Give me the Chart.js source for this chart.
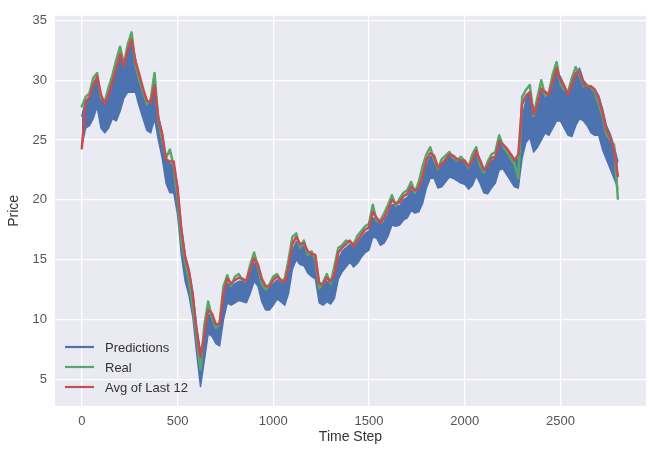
<!DOCTYPE html>
<html><head><meta charset="utf-8">
<script src="https://cdn.jsdelivr.net/npm/chart.js@4/dist/chart.umd.min.js"></script>
<style>html,body{margin:0;padding:0;background:#fff;} #wrap{width:649px;height:450px;}</style>
</head><body><div id="wrap"><canvas id="c" width="649" height="450"></canvas></div>
<script>
const steps = [
0,20,40,60,80,100,120,140,160,180,
200,220,240,260,280,300,320,340,360,380,
400,420,440,460,480,500,520,540,560,580,
600,620,640,660,680,700,720,740,760,780,
800,820,840,860,880,900,920,940,960,980,
1000,1020,1040,1060,1080,1100,1120,1140,1160,1180,
1200,1220,1240,1260,1280,1300,1320,1340,1360,1380,
1400,1420,1440,1460,1480,1500,1520,1540,1560,1580,
1600,1620,1640,1660,1680,1700,1720,1740,1760,1780,
1800,1820,1840,1860,1880,1900,1920,1940,1960,1980,
2000,2020,2040,2060,2080,2100,2120,2140,2160,2180,
2200,2220,2240,2260,2280,2300,2320,2340,2360,2380,
2400,2420,2440,2460,2480,2500,2520,2540,2560,2580,
2600,2620,2640,2660,2680,2700,2720,2740,2760,2780,
2800];

// Predictions: upper and lower edge of the dense prediction band
const predHigh = [
27.0,28.3,28.5,29.4,30.0,28.6,27.9,28.6,29.6,30.7,
31.8,31.2,32.2,33.0,31.8,30.4,29.2,28.2,28.0,29.3,
27.0,25.6,23.5,23.0,23.0,21.2,17.8,15.4,14.2,12.3,
9.4,7.3,8.4,10.4,10.4,9.5,9.3,11.7,13.0,12.9,
13.0,13.2,13.2,13.0,13.8,14.7,14.6,13.5,12.8,12.6,
13.0,13.3,13.2,12.9,14.0,15.7,16.5,16.2,16.1,15.6,
15.3,15.2,13.2,12.7,13.2,13.1,13.5,15.0,15.7,16.0,
16.3,16.0,16.3,16.8,17.2,17.4,18.5,18.4,17.9,18.2,
18.8,19.6,19.6,19.5,20.0,20.2,20.8,20.7,20.8,21.5,
22.8,23.6,23.6,22.8,22.8,23.2,23.6,23.6,23.4,23.2,
23.2,22.8,23.0,23.8,23.4,22.6,22.6,23.2,23.5,24.6,
24.7,24.3,23.9,23.4,23.4,26.8,28.4,28.9,27.6,27.8,
29.0,29.1,28.7,29.5,30.6,30.3,29.6,28.8,29.4,30.5,
31.0,30.0,29.6,29.4,29.2,28.7,27.6,26.2,25.5,24.5,
23.2];

const predLow = [
24.5,26.0,26.2,26.8,27.8,26.0,25.6,26.0,26.8,26.6,
27.4,28.5,29.0,29.0,29.0,27.8,26.8,25.8,25.6,26.8,
25.0,23.5,21.4,20.6,20.6,18.8,15.4,13.2,12.0,10.2,
7.2,4.4,6.6,8.8,8.6,8.0,7.8,10.0,11.4,11.2,
11.4,11.6,11.5,11.4,12.2,13.2,12.8,11.5,10.8,10.8,
11.2,11.7,11.5,11.2,12.2,14.2,15.0,14.6,14.5,13.9,
13.6,13.4,11.4,11.2,11.5,11.3,11.8,13.4,14.0,14.4,
14.8,14.4,14.7,15.2,15.6,15.8,16.9,16.8,16.2,16.4,
17.0,17.9,17.8,17.9,18.3,18.5,19.1,18.9,19.0,19.7,
21.0,21.8,21.8,21.0,21.1,21.5,21.9,21.8,21.6,21.4,
21.3,20.9,21.2,22.0,21.4,20.6,20.5,21.0,21.4,22.5,
22.6,22.1,21.6,21.1,21.0,23.5,24.8,25.2,24.0,24.4,
25.0,25.6,25.4,26.0,26.6,26.6,26.0,25.4,25.3,26.2,
26.8,26.6,26.2,25.6,25.4,25.4,24.2,23.4,22.6,21.8,
21.0];

const real = [
27.8,28.6,28.9,30.2,30.6,28.5,28.2,29.4,30.4,31.7,
32.8,31.3,33.0,34.0,31.3,30.0,29.0,28.0,28.4,30.6,
26.5,25.0,23.5,24.2,22.8,20.2,16.5,14.8,13.2,11.0,
8.5,5.8,9.5,11.5,10.2,9.3,9.8,12.8,13.7,12.8,
13.6,13.8,13.3,13.3,14.6,15.6,14.4,13.0,12.5,12.9,
13.6,13.8,13.2,13.4,15.0,16.9,17.2,16.0,16.6,15.4,
15.7,15.0,12.6,13.1,13.8,13.0,14.5,16.0,16.2,16.6,
16.5,16.3,17.0,17.4,17.8,18.0,19.6,18.2,18.3,18.9,
19.6,20.4,19.5,20.1,20.6,20.8,21.5,20.6,21.5,22.8,
23.8,24.4,23.3,22.6,23.4,23.7,24.0,23.5,23.3,23.6,
23.2,22.7,23.8,24.4,22.9,22.3,23.2,23.8,24.0,25.4,
24.5,24.0,23.5,23.0,21.8,28.6,29.2,29.6,27.0,28.6,
30.0,28.7,29.0,30.5,31.5,29.7,29.2,29.0,30.2,31.1,
30.4,29.5,29.6,29.4,29.0,28.0,27.0,25.5,25.0,24.6,
20.1];

const avg12 = [
24.3,28.2,28.6,29.6,30.3,28.8,28.0,28.8,29.9,31.0,
32.2,31.2,32.5,33.4,31.6,30.5,29.3,28.3,28.1,29.6,
26.8,25.5,23.4,23.2,23.2,21.0,17.5,15.2,14.0,12.0,
9.0,6.9,8.7,10.8,10.5,9.6,9.6,12.2,13.4,13.0,
13.3,13.5,13.4,13.2,14.2,15.1,14.6,13.4,12.8,12.8,
13.3,13.6,13.3,13.1,14.4,16.3,16.9,16.3,16.4,15.7,
15.5,15.4,13.0,12.9,13.5,13.2,13.8,15.6,16.0,16.3,
16.6,16.1,16.6,17.1,17.5,17.7,19.0,18.5,18.1,18.5,
19.2,20.0,19.7,19.8,20.3,20.5,21.1,20.8,21.0,22.0,
23.3,23.9,23.7,22.7,23.0,23.4,23.8,23.7,23.4,23.3,
23.3,22.8,23.3,24.1,23.3,22.5,22.8,23.5,23.6,24.9,
24.6,24.3,23.8,23.3,23.8,28.0,28.7,29.0,27.2,28.0,
29.3,29.0,28.8,29.9,31.0,30.0,29.5,28.8,29.7,30.6,
30.7,29.7,29.4,29.5,29.2,28.5,27.3,25.9,25.2,24.2,
22.0];

const xTicks = [0,500,1000,1500,2000,2500];
const yTicks = [5,10,15,20,25,30,35];
const seriesNames = ['Predictions','Real','Avg of Last 12'];
const seriesColors = ['#4C72B0','#55A868','#C44E52'];
const xTitle = 'Time Step';
const yTitle = 'Price';

function pts(arr){ return steps.map((t,i)=>({x:t,y:arr[i]})); }

const FONT = '"Liberation Sans", Arial, sans-serif';

const bgPlugin = {
  id:'bg',
  beforeDraw(chart){
    const {ctx, chartArea:a} = chart;
    ctx.save();
    ctx.fillStyle = '#ffffff';
    ctx.fillRect(0,0,chart.width,chart.height);
    ctx.fillStyle = '#EAEAF2';
    ctx.fillRect(a.left,a.top,a.right-a.left,a.bottom-a.top);
    ctx.restore();
  }
};

const legendPlugin = {
  id:'innerLegend',
  afterDatasetsDraw(chart){
    const ctx = chart.ctx;
    ctx.save();
    const x0 = 65, x1 = 94, tx = 105;
    const ys = [347, 367, 387];
    ctx.font = '13px ' + FONT;
    ctx.textBaseline = 'middle';
    ctx.textAlign = 'left';
    seriesNames.forEach((n,i)=>{
      ctx.strokeStyle = seriesColors[i];
      ctx.lineWidth = 2.2;
      ctx.beginPath(); ctx.moveTo(x0,ys[i]); ctx.lineTo(x1,ys[i]); ctx.stroke();
      ctx.fillStyle = '#333333';
      ctx.fillText(n, tx, ys[i]+1);
    });
    ctx.restore();
  }
};

new Chart(document.getElementById('c'), {
  type:'line',
  data:{
    datasets:[
      {label:'predHigh', data:pts(predHigh), borderColor:seriesColors[0], borderWidth:1.5, pointRadius:0, fill:false, order:3},
      {label:seriesNames[0], data:pts(predLow), borderColor:seriesColors[0], backgroundColor:seriesColors[0], borderWidth:1.5, pointRadius:0, fill:'-1', order:2},
      {label:seriesNames[1], data:pts(real), borderColor:seriesColors[1], borderWidth:2.5, pointRadius:0, fill:false, order:1},
      {label:seriesNames[2], data:pts(avg12), borderColor:seriesColors[2], borderWidth:2.5, pointRadius:0, fill:false, order:0}
    ]
  },
  options:{
    responsive:false,
    animation:false,
    devicePixelRatio:1,
    layout:{padding:{top:9,right:3,left:0,bottom:0}},
    plugins:{legend:{display:false}, tooltip:{enabled:false}},
    elements:{line:{tension:0, borderJoinStyle:'round', borderCapStyle:'round'}},
    scales:{
      x:{
        type:'linear', min:-140, max:2947,
        afterBuildTicks(axis){ axis.ticks = xTicks.map(v=>({value:v})); },
        afterFit(axis){ axis.height = 44; },
        grid:{color:'#ffffff', lineWidth:1.3, drawTicks:false},
        border:{display:false},
        ticks:{color:'#555555', font:{size:13, family:FONT}, padding:8, maxRotation:0, callback:v=>String(v)},
        title:{display:true, text:xTitle, color:'#333333', font:{size:14, family:FONT}, padding:{top:0,bottom:4}}
      },
      y:{
        type:'linear', min:2.78, max:35.38,
        afterBuildTicks(axis){ axis.ticks = yTicks.map(v=>({value:v})); },
        afterFit(axis){ axis.width = 55; },
        grid:{color:'#ffffff', lineWidth:1.3, drawTicks:false},
        border:{display:false},
        ticks:{color:'#555555', font:{size:13, family:FONT}, padding:8, callback:v=>String(v)},
        title:{display:true, text:yTitle, color:'#333333', font:{size:14, family:FONT}, padding:{top:6,bottom:0}}
      }
    }
  },
  plugins:[bgPlugin, legendPlugin]
});
</script>
</body></html>
